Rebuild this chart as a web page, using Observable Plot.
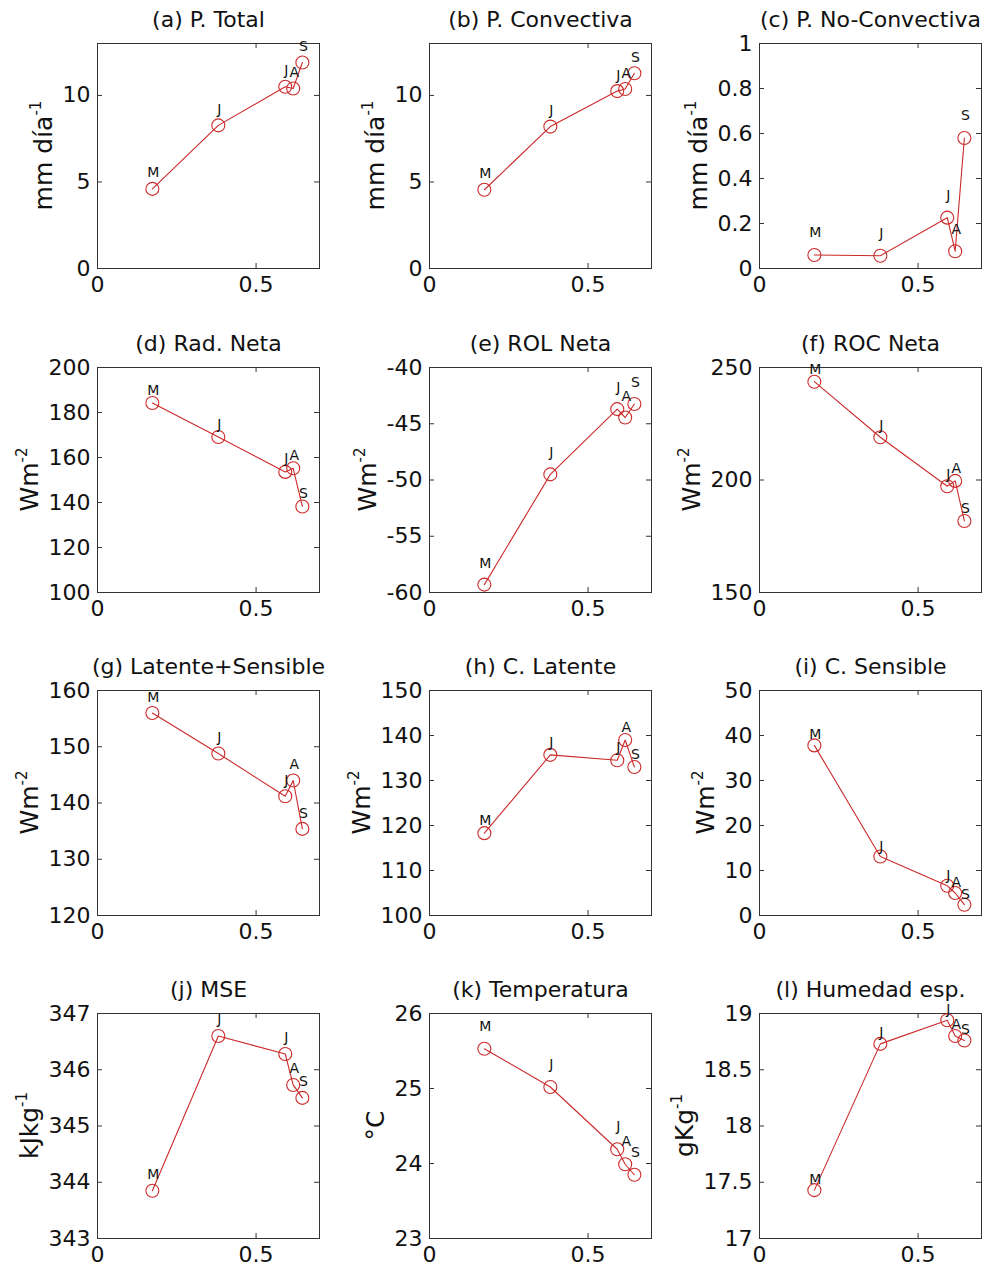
<!DOCTYPE html>
<html><head><meta charset="utf-8">
<script src="https://cdn.jsdelivr.net/npm/d3@7"></script>
<script src="https://cdn.jsdelivr.net/npm/@observablehq/plot@0.6"></script>
<style>
body{margin:0;background:#fff;overflow:hidden}
#root{position:relative;width:985px;height:1266px;font-family:"DejaVu Sans",sans-serif}
.panel{position:absolute}
</style></head><body><div id="root"></div>
<script>
// ---- data ----
const months = ["M", "J", "J", "A", "S"];
const xValues = [0.173, 0.381, 0.592, 0.617, 0.646];
const xTicks = [0, 0.5];

const pTotal = [4.6, 8.27, 10.5, 10.4, 11.9];
const pConvectiva = [4.55, 8.2, 10.25, 10.37, 11.28];
const pNoConvectiva = [0.06, 0.057, 0.226, 0.077, 0.58];
const radNeta = [184.2, 169.1, 153.6, 155.2, 138.2];
const rolNeta = [-59.3, -49.5, -43.7, -44.45, -43.25];
const rocNeta = [243.7, 219.0, 197.2, 199.6, 181.8];
const latSens = [156.0, 148.8, 141.2, 144.0, 135.4];
const cLatente = [118.3, 135.7, 134.5, 139.0, 133.0];
const cSensible = [37.8, 13.1, 6.6, 5.0, 2.4];
const mse = [343.85, 346.6, 346.28, 345.73, 345.5];
const temperatura = [25.53, 25.02, 24.19, 23.99, 23.85];
const humedad = [17.43, 18.73, 18.94, 18.80, 18.76];

const titles = ["(a) P. Total", "(b) P. Convectiva", "(c) P. No-Convectiva",
  "(d) Rad. Neta", "(e) ROL Neta", "(f) ROC Neta",
  "(g) Latente+Sensible", "(h) C. Latente", "(i) C. Sensible",
  "(j) MSE", "(k) Temperatura", "(l) Humedad esp."];
const unitMain = ["mm día", "mm día", "mm día", "Wm", "Wm", "Wm", "Wm", "Wm", "Wm", "kJkg", "°C", "gKg"];
const unitSup = ["-1", "-1", "-1", "-2", "-2", "-2", "-2", "-2", "-2", "-1", "", "-1"];
const yDomains = [[0, 13], [0, 13], [0, 1], [100, 200], [-60, -40], [150, 250],
  [120, 160], [100, 150], [0, 50], [343, 347], [23, 26], [17, 19]];
const yTicks = [[0, 5, 10], [0, 5, 10], [0, 0.2, 0.4, 0.6, 0.8, 1],
  [100, 120, 140, 160, 180, 200], [-60, -55, -50, -45, -40], [150, 200, 250],
  [120, 130, 140, 150, 160], [100, 110, 120, 130, 140, 150], [0, 10, 20, 30, 40, 50],
  [343, 344, 345, 346, 347], [23, 24, 25, 26], [17, 17.5, 18, 18.5, 19]];
const series = [pTotal, pConvectiva, pNoConvectiva, radNeta, rolNeta, rocNeta,
  latSens, cLatente, cSensible, mse, temperatura, humedad];

// ---- style ----
const labelDy = [-16, -16, -22, -13, -21.5, -12, -15.5, -12.5, -10.5, -16, -22.5, -11];
const RED = "#cc2a2a";
const W = 323, H = 297, ML = 97, MR = 4, MT = 43, MB = 29;
const colLeft = [0, 332, 662];
const rowTop = [0, 324, 647, 970];
const FW = W - ML - MR, FH = H - MT - MB;

const root = document.getElementById("root");

series.forEach((vals, k) => {
  const col = k % 3, row = Math.floor(k / 3);
  const data = months.map((m, i) => ({x: xValues[i], y: vals[i], m}));
  const ticks = yTicks[k];
  const chart = Plot.plot({
    width: W, height: H,
    marginLeft: ML, marginRight: MR, marginTop: MT, marginBottom: MB,
    style: {fontFamily: "DejaVu Sans", background: "transparent", overflow: "visible", color: "#111"},
    x: {domain: [0, 0.7]},
    y: {domain: yDomains[k]},
    marks: [
      Plot.tickY(ticks, {y: d => d, insetRight: FW - 5, stroke: "#333"}),
      Plot.tickY(ticks, {y: d => d, insetLeft: FW - 5, stroke: "#333"}),
      Plot.tickX(xTicks, {x: d => d, insetTop: FH - 5, stroke: "#333"}),
      Plot.tickX(xTicks, {x: d => d, insetBottom: FH - 5, stroke: "#333"}),
      Plot.frame({stroke: "#333"}),
      Plot.axisX(xTicks, {tickSize: 0, tickPadding: 8, fontSize: 22, tickFormat: d => String(d), label: null}),
      Plot.axisY(ticks, {tickSize: 0, tickPadding: 7, fontSize: 22, tickFormat: d => String(d), label: null}),
      Plot.line(data, {x: "x", y: "y", stroke: RED, strokeWidth: 1.1}),
      Plot.dot(data, {x: "x", y: "y", r: 6.5, stroke: RED, fill: "none", strokeWidth: 1.1}),
      Plot.text(data, {x: "x", y: "y", text: "m", dy: labelDy[k], dx: 1, fontSize: 14, fill: "#111"}),
      Plot.text([titles[k]], {frameAnchor: "top", lineAnchor: "middle", text: d => d, dy: -24, fontSize: 22, fill: "#111"})
    ]
  });
  const div = document.createElement("div");
  div.className = "panel";
  div.style.left = colLeft[col] + "px";
  div.style.top = rowTop[row] + "px";
  div.appendChild(chart);
  root.appendChild(div);

  // y-axis label with superscript
  const svgRect = chart.getBoundingClientRect();
  let minX = ML;
  d3.select(chart).selectAll('[aria-label="y-axis tick label"] text').each(function() {
    const r = this.getBoundingClientRect();
    minX = Math.min(minX, r.left - svgRect.left);
  });
  const t = d3.select(chart).append("text")
    .attr("transform", `translate(${minX - 11},${MT + FH / 2}) rotate(-90)`)
    .attr("text-anchor", "middle")
    .attr("font-family", "DejaVu Sans")
    .attr("font-size", 25)
    .attr("fill", "#111");
  t.append("tspan").text(unitMain[k]);
  if (unitSup[k]) t.append("tspan").attr("font-size", 15).attr("dy", -11).text(unitSup[k]);
});
</script></body></html>
